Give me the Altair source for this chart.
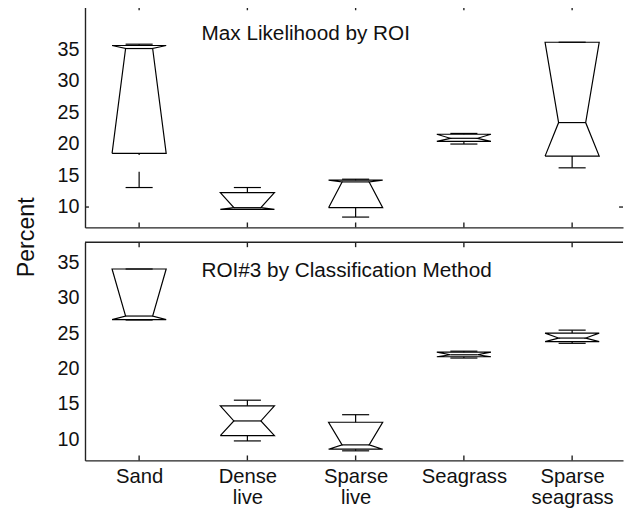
import json
import altair as alt
import pandas as pd

# ---------------- data ----------------
categories = ["Sand", "Dense live", "Sparse live", "Seagrass", "Sparse seagrass"]
label_lines = [["Sand"], ["Dense", "live"], ["Sparse", "live"], ["Seagrass"], ["Sparse", "seagrass"]]
y_ticks = [10, 15, 20, 25, 30, 35]
panel_titles = ["Max Likelihood by ROI", "ROI#3 by Classification Method"]
y_label = "Percent"

# panel 1: Max Likelihood by ROI
ml_wlo = [13.09, 9.63, 8.41, 19.98, 16.21]
ml_q1 = [18.50, 9.63, 9.90, 20.41, 18.07]
ml_med = [35.11, 9.90, 13.98, 20.89, 23.38]
ml_q3 = [35.59, 12.29, 14.25, 21.53, 36.11]
ml_whi = [35.80, 13.09, 14.41, 21.66, 36.11]

# panel 2: ROI#3 by Classification Method
roi_wlo = [26.85, 9.78, 8.38, 21.48, 23.56]
roi_q1 = [26.90, 10.52, 8.61, 21.66, 23.79]
roi_med = [27.41, 12.60, 9.22, 21.94, 24.30]
roi_q3 = [34.05, 14.74, 12.42, 22.31, 25.00]
roi_whi = [34.05, 15.53, 13.48, 22.45, 25.42]

# ---------------- style ----------------
FONT = "Liberation Sans"
W = 545
BOX_W = 0.5
X_DOMAIN = [0.5, 5.47]
LINE = "#000000"
FRAME = "#222222"
LW = 1.2
FW = 1.4

label_expr = json.dumps(label_lines) + "[datum.value - 1]"


def panel(idx, wlo, q1, med, q3, whi, domain, height, bottom_labels):
    pos = list(range(1, len(categories) + 1))
    st = pd.DataFrame(dict(cat=categories, pos=pos, wlo=wlo, q1=q1, med=med, q3=q3, whi=whi))
    st["lb"] = st["pos"] - BOX_W / 2
    st["rb"] = st["pos"] + BOX_W / 2
    st["lf"] = st["pos"] - BOX_W / 4
    st["rf"] = st["pos"] + BOX_W / 4

    rows = []
    for r in st.itertuples():
        verts = [(r.lb, r.q1), (r.lf, r.med), (r.lb, r.q3), (r.rb, r.q3),
                 (r.rf, r.med), (r.rb, r.q1), (r.lb, r.q1)]
        for k, (vx, vy) in enumerate(verts):
            rows.append(dict(cat=r.cat, k=k, vx=vx, vy=vy))
    outline = pd.DataFrame(rows)

    xs = alt.Scale(domain=X_DOMAIN, nice=False, zero=False)
    ys = alt.Scale(domain=domain, nice=False, zero=False)

    if bottom_labels:
        xaxis = alt.Axis(values=pos, labelExpr=label_expr, ticks=False, grid=False,
                         title=None, domainColor=FRAME, domainWidth=FW,
                         labelFont=FONT, labelFontSize=20.5, labelColor="#111",
                         labelPadding=6, labelLineHeight=22, labelOverlap=False,
                         labelFlush=False)
    else:
        xaxis = alt.Axis(labels=False, ticks=False, grid=False, title=None,
                         domainColor=FRAME, domainWidth=FW)
    yaxis = alt.Axis(values=y_ticks, ticks=False, grid=False, title=None,
                     domainColor=FRAME, domainWidth=FW, labelFont=FONT,
                     labelFontSize=20, labelColor="#111", labelPadding=6)

    def X(f, axis=None):
        if axis is None:
            return alt.X(f, type="quantitative", scale=xs, title=None)
        return alt.X(f, type="quantitative", scale=xs, axis=axis, title=None)

    def Y(f, axis=None):
        if axis is None:
            return alt.Y(f, type="quantitative", scale=ys, title=None)
        return alt.Y(f, type="quantitative", scale=ys, axis=axis, title=None)

    box = alt.Chart(outline).mark_line(color=LINE, strokeWidth=LW).encode(
        x=X("vx", xaxis), y=Y("vy", yaxis), detail="cat:N", order="k:Q")

    base = alt.Chart(st)
    median = base.mark_rule(color=LINE, strokeWidth=LW).encode(
        x=X("lf"), x2="rf", y=Y("med"))
    wl = base.mark_rule(color=LINE, strokeWidth=LW, strokeDash=[16, 17]).encode(
        x=X("pos"), y=Y("wlo"), y2="q1")
    wh = base.mark_rule(color=LINE, strokeWidth=LW, strokeDash=[16, 17]).encode(
        x=X("pos"), y=Y("whi"), y2="q3")
    cl = base.mark_rule(color=LINE, strokeWidth=LW).encode(x=X("lf"), x2="rf", y=Y("wlo"))
    ch = base.mark_rule(color=LINE, strokeWidth=LW).encode(x=X("lf"), x2="rf", y=Y("whi"))

    one = pd.DataFrame({"t": [panel_titles[idx]]})
    top_border = alt.Chart(one).mark_rule(color=FRAME, strokeWidth=FW).encode(
        x=alt.value(0), x2=alt.value(W), y=alt.value(0))
    tick_top = base.mark_rule(color=FRAME, strokeWidth=FW).encode(
        x=X("pos"), y=alt.value(0), y2=alt.value(5))
    tick_bot = base.mark_rule(color=FRAME, strokeWidth=FW).encode(
        x=X("pos"), y=alt.value(height - 5), y2=alt.value(height))
    title = alt.Chart(one).mark_text(align="left", baseline="alphabetic", font=FONT,
                                     fontSize=21, color="#111").encode(
        x=alt.value(118), y=alt.value(35), text="t:N")

    layers = [box, median, wl, wh, cl, ch, top_border, tick_top, tick_bot, title]

    if idx == 0:
        ten = pd.DataFrame({"v": [10]})
        ytl = alt.Chart(ten).mark_rule(color=FRAME, strokeWidth=FW).encode(
            y=Y("v"), x=alt.value(0), x2=alt.value(4))
        ytr = alt.Chart(ten).mark_rule(color=FRAME, strokeWidth=FW).encode(
            y=Y("v"), x=alt.value(W - 4), x2=alt.value(W))
        ptxt = alt.Chart(pd.DataFrame({"t": [y_label]})).mark_text(
            angle=270, align="center", baseline="alphabetic", font=FONT,
            fontSize=23.5, color="#111").encode(
            x=alt.value(-52), y=alt.value(235), text="t:N")
        layers += [ytl, ytr, ptxt]

    return alt.layer(*layers).properties(width=W, height=height)


top = panel(0, ml_wlo, ml_q1, ml_med, ml_q3, ml_whi, [6.77, 41.96], 225, False)
bottom = panel(1, roi_wlo, roi_q1, roi_med, roi_q3, roi_whi, [7.03, 37.83], 221, True)

chart = alt.vconcat(top, bottom, spacing=15, bounds="flush").properties(
    padding={"left": 7, "top": -7, "right": 0, "bottom": 0},
    background="white",
).configure_view(stroke=None)

chart.save("out.html", embed_options={"renderer": "svg", "actions": False})
